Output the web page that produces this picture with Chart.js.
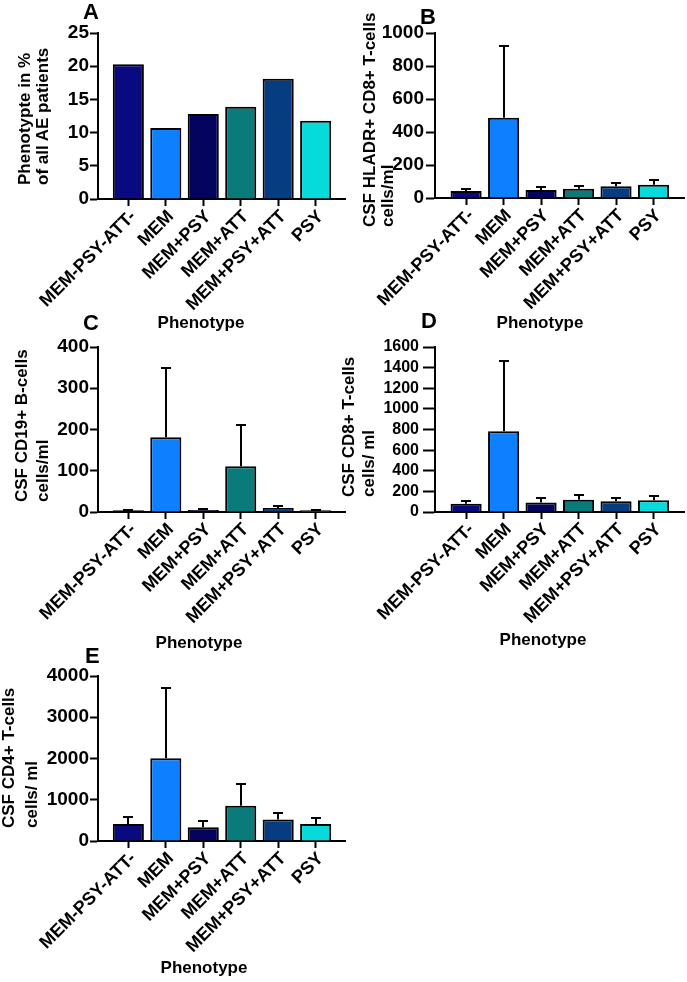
<!DOCTYPE html>
<html>
<head>
<meta charset="utf-8">
<script src="https://cdn.jsdelivr.net/npm/chart.js@4.4.1/dist/chart.umd.min.js"></script>
<style>
  html, body { margin: 0; padding: 0; background: #fff; }
  #wrap { position: relative; width: 687px; height: 982px; overflow: hidden; background: #fff;
          font-family: 'Liberation Sans', Arial, sans-serif; font-weight: bold; color: #000; }
  canvas { position: absolute; }
  .letter { position: absolute; font-size: 22px; line-height: 22px; white-space: nowrap; }
  .ytl { position: absolute; font-size: 17px; line-height: 18px; white-space: nowrap;
         transform: rotate(-90deg); transform-origin: 0 0; }
  .xt { position: absolute; width: 120px; text-align: center; font-size: 17px; line-height: 20px; }
</style>
</head>
<body>
<div id="wrap">
  <canvas id="cA" width="346" height="315" style="left:0px;top:0px;"></canvas>
  <canvas id="cB" width="340" height="315" style="left:345px;top:0px;"></canvas>
  <canvas id="cC" width="346" height="315" style="left:0px;top:315px;"></canvas>
  <canvas id="cD" width="340" height="315" style="left:345px;top:315px;"></canvas>
  <canvas id="cE" width="346" height="320" style="left:0px;top:640px;"></canvas>

  <div class="letter" style="left:83px;top:1px;">A</div>
  <div class="letter" style="left:420px;top:6px;">B</div>
  <div class="letter" style="left:83px;top:312px;">C</div>
  <div class="letter" style="left:421px;top:310px;">D</div>
  <div class="letter" style="left:85px;top:645px;">E</div>

  <div class="ytl" style="left:16px;top:185px;">Phenotypte in %</div>
  <div class="ytl" style="left:34px;top:185px;">of all AE patients</div>
  <div class="ytl" style="left:361px;top:227px;">CSF HLADR+ CD8+ T-cells</div>
  <div class="ytl" style="left:379px;top:227px;">cells/ml</div>
  <div class="ytl" style="left:13px;top:502px;">CSF CD19+ B-cells</div>
  <div class="ytl" style="left:34px;top:502px;">cells/ml</div>
  <div class="ytl" style="left:340px;top:497px;">CSF CD8+ T-cells</div>
  <div class="ytl" style="left:360px;top:497px;">cells/ ml</div>
  <div class="ytl" style="left:0px;top:828px;">CSF CD4+ T-cells</div>
  <div class="ytl" style="left:23px;top:828px;">cells/ ml</div>

  <div class="xt" style="left:141px;top:313px;">Phenotype</div>
  <div class="xt" style="left:480px;top:313px;">Phenotype</div>
  <div class="xt" style="left:139px;top:633px;">Phenotype</div>
  <div class="xt" style="left:483px;top:630px;">Phenotype</div>
  <div class="xt" style="left:144px;top:958px;">Phenotype</div>
</div>
<script>
// ---- data ----
const categories = ['MEM-PSY-ATT-', 'MEM', 'MEM+PSY', 'MEM+ATT', 'MEM+PSY+ATT', 'PSY'];

// A: phenotype in % of all AE patients
const pctPatients = [20.3, 10.7, 12.8, 13.9, 18.1, 11.8];
const ticksA = [0, 5, 10, 15, 20, 25];

// B: CSF HLADR+ CD8+ T-cells (mean, error above mean)
const hladrCd8Mean = [42, 487, 48, 56, 71, 80];
const hladrCd8Err  = [12, 436, 18, 19, 21, 30];
const ticksB = [0, 200, 400, 600, 800, 1000];

// C: CSF CD19+ B-cells
const cd19Mean = [4, 181, 5, 111, 10, 4];
const cd19Err  = [2, 168, 3, 100, 4, 2];
const ticksC = [0, 100, 200, 300, 400];

// D: CSF CD8+ T-cells
const cd8Mean = [80, 784, 92, 118, 105, 113];
const cd8Err  = [30, 681, 43, 45, 29, 42];
const ticksD = [0, 200, 400, 600, 800, 1000, 1200, 1400, 1600];

// E: CSF CD4+ T-cells
const cd4Mean = [411, 2008, 331, 855, 524, 411];
const cd4Err  = [162, 1710, 161, 516, 161, 154];
const ticksE = [0, 1000, 2000, 3000, 4000];

// ---- styles ----
const barColors = ['#0a0a80', '#0d80ff', '#04045e', '#0a7b7b', '#053d80', '#07dada'];
Chart.defaults.font.family = "'Liberation Sans', Arial, sans-serif";
Chart.defaults.font.weight = 'bold';
Chart.defaults.color = '#000';

const errorBarPlugin = {
  id: 'errorBars',
  afterDatasetsDraw(chart, args, opts) {
    if (!opts || !opts.errors) return;
    const ctx = chart.ctx;
    const xs = chart.scales.x, ys = chart.scales.y;
    const ds = chart.data.datasets[0];
    ctx.save();
    ctx.strokeStyle = '#000';
    ctx.lineWidth = 2;
    ds.data.forEach((pt, i) => {
      const px = Math.round(xs.getPixelForValue(pt.x));
      const y0 = ys.getPixelForValue(pt.y);
      const y1 = Math.round(ys.getPixelForValue(pt.y + opts.errors[i]));
      ctx.beginPath();
      ctx.moveTo(px, y0);
      ctx.lineTo(px, y1);
      ctx.moveTo(px - 5, y1);
      ctx.lineTo(px + 5, y1);
      ctx.stroke();
    });
    ctx.restore();
  }
};

function makePanel(id, values, errors, yTicks, g) {
  const pts = values.map((v, i) => ({ x: i, y: v }));
  new Chart(document.getElementById(id), {
    type: 'bar',
    data: {
      datasets: [{
        data: pts,
        backgroundColor: barColors,
        borderColor: '#000',
        borderWidth: 2,
        categoryPercentage: 1,
        barPercentage: 0.83
      }]
    },
    options: {
      responsive: false,
      animation: false,
      devicePixelRatio: 1,
      layout: { padding: { top: g.top, left: 0, right: 0, bottom: 0 } },
      plugins: {
        legend: { display: false },
        tooltip: { enabled: false },
        errorBars: { errors: errors }
      },
      scales: {
        x: {
          type: 'linear',
          min: g.xmin, max: g.xmax,
          offset: false,
          grid: { offset: false, drawOnChartArea: false, drawTicks: true, tickLength: 7, tickWidth: 2, tickColor: '#000' },
          border: { display: true, color: '#000', width: 2 },
          ticks: {
            autoSkip: false, includeBounds: false, stepSize: 1,
            minRotation: 45, maxRotation: 45, labelOffset: 5,
            font: { size: 18, weight: 'bold' }, color: '#000', padding: 0,
            callback: (v) => (categories[v] !== undefined ? categories[v] : '')
          },
          afterBuildTicks: (s) => { s.ticks = categories.map((c, i) => ({ value: i })); },
          afterFit: (s) => { s.height = g.xh; }
        },
        y: {
          min: 0, max: yTicks[yTicks.length - 1],
          grid: { drawOnChartArea: false, drawTicks: true, tickLength: g.tl, tickWidth: 2, tickColor: '#000' },
          border: { display: true, color: '#000', width: 2 },
          ticks: { autoSkip: false, font: { size: g.fs, weight: 'bold' }, color: '#000', padding: g.tp,
                   callback: (v) => String(v) },
          afterBuildTicks: (s) => { s.ticks = yTicks.map(v => ({ value: v })); },
          afterFit: (s) => { s.width = g.yw; }
        }
      }
    },
    plugins: [errorBarPlugin]
  });
}

makePanel('cA', pctPatients, null, ticksA, { top: 33, xh: 116, yw: 98, xmin: -0.81, xmax: 5.81, tl: 8, tp: 1, fs: 19 });
makePanel('cB', hladrCd8Mean, hladrCd8Err, ticksB, { top: 33, xh: 117, yw: 90, xmin: -0.83, xmax: 5.84, tl: 9, tp: 2, fs: 19 });
makePanel('cC', cd19Mean, cd19Err, ticksC, { top: 32, xh: 118, yw: 98, xmin: -0.81, xmax: 5.81, tl: 8, tp: 1, fs: 19 });
makePanel('cD', cd8Mean, cd8Err, ticksD, { top: 32, xh: 118, yw: 90, xmin: -0.83, xmax: 5.84, tl: 12, tp: 4, fs: 16 });
makePanel('cE', cd4Mean, cd4Err, ticksE, { top: 36, xh: 119, yw: 98, xmin: -0.81, xmax: 5.81, tl: 8, tp: 1, fs: 19 });
</script>
</body>
</html>
